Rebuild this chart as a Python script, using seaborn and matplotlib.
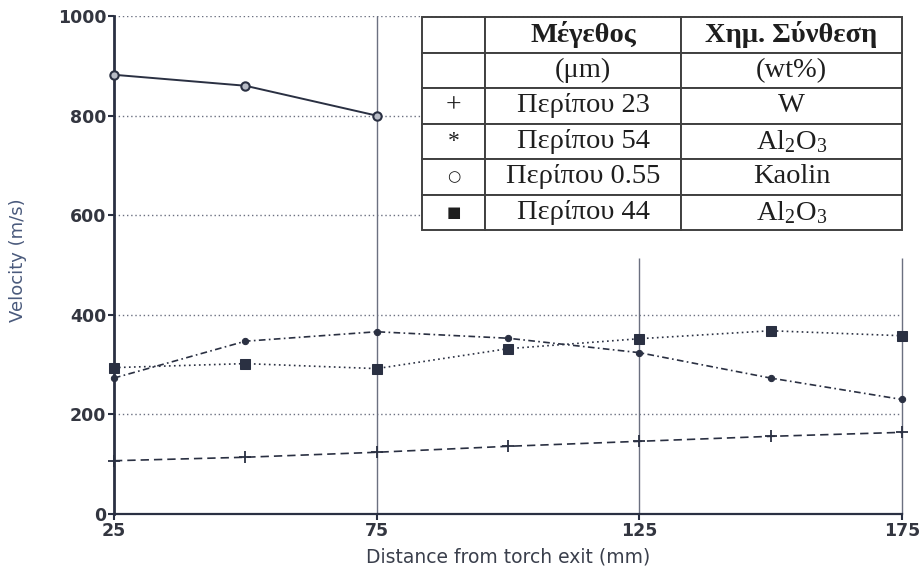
import matplotlib
matplotlib.use("Agg")
import matplotlib.pyplot as plt
import seaborn as sns
import pandas as pd

# Particle velocity vs. distance from the plasma torch exit
distance = [25, 50, 75, 100, 125, 150, 175]
vel_w = [107, 114, 124, 136, 146, 156, 164]            # W, ~23 um
vel_al2o3_54 = [273, 347, 366, 353, 324, 273, 230]     # Al2O3, ~54 um
distance_kaolin = [25, 50, 75]
vel_kaolin = [882, 860, 800]                           # Kaolin, ~0.55 um
vel_al2o3_44 = [294, 302, 292, 332, 352, 368, 358]     # Al2O3, ~44 um

x_ticks = [25, 75, 125, 175]
y_ticks = [0, 200, 400, 600, 800, 1000]

table_header = ["", "Μέγεθος", "Χημ. Σύνθεση"]
table_units = ["", "(μm)", "(wt%)"]
table_symbols = ["+", "*", "○", "■"]
table_sizes = ["Περίπου 23", "Περίπου 54", "Περίπου 0.55", "Περίπου 44"]
table_comp = ["W", "Al$_2$O$_3$", "Kaolin", "Al$_2$O$_3$"]

sns.set_theme(style="white")
plt.rcParams["font.family"] = ["DejaVu Sans"]
plt.rcParams["mathtext.fontset"] = "custom"
plt.rcParams["mathtext.rm"] = "Liberation Serif"
plt.rcParams["mathtext.it"] = "Liberation Serif:italic"

ink = "#2a3042"
grid_c = "#6b7080"

fig = plt.figure(figsize=(9.22, 5.76), dpi=100)
ax = fig.add_axes([0.1236, 0.1076, 0.8547, 0.8646])

# grid: dotted horizontals, thin solid verticals
for y in y_ticks[1:]:
    ax.axhline(y, color=grid_c, lw=1.0, ls=(0, (1, 2)), zorder=1)
ax.axvline(75, color=grid_c, lw=1.0, zorder=1)
ax.vlines([125, 175], 0, 515, color=grid_c, lw=1.0, zorder=1, clip_on=False)

df_w = pd.DataFrame({"d": distance, "v": vel_w})
df_54 = pd.DataFrame({"d": distance, "v": vel_al2o3_54})
df_k = pd.DataFrame({"d": distance_kaolin, "v": vel_kaolin})
df_44 = pd.DataFrame({"d": distance, "v": vel_al2o3_44})

sns.lineplot(data=df_w, x="d", y="v", ax=ax, color=ink, lw=1.2,
             ls=(0, (5, 3)), marker="+", ms=9, mew=1.3, mec=ink,
             clip_on=False, zorder=3)
sns.lineplot(data=df_54, x="d", y="v", ax=ax, color=ink, lw=1.2,
             ls=(0, (4, 2, 1, 2)), marker="o", ms=4.5, mec=ink, mfc=ink,
             clip_on=False, zorder=3)
sns.lineplot(data=df_44, x="d", y="v", ax=ax, color=ink, lw=1.2,
             ls=(0, (1, 2)), marker="s", ms=7, mec=ink, mfc=ink,
             clip_on=False, zorder=3)
sns.lineplot(data=df_k, x="d", y="v", ax=ax, color=ink, lw=1.4,
             ls="-", marker="o", ms=6, mec=ink, mfc="#b8bcc6", mew=1.5,
             clip_on=False, zorder=3)

ax.set_xlim(25, 175)
ax.set_ylim(0, 1000)
ax.set_xticks(x_ticks)
ax.set_yticks(y_ticks)
ax.set_xticklabels([str(t) for t in x_ticks], fontsize=12.5, fontweight="bold",
                   color="#333640")
ax.set_yticklabels([str(t) for t in y_ticks], fontsize=12.5, fontweight="bold",
                   color="#333640")
ax.tick_params(axis="both", direction="out", length=4, width=1.5, color=ink,
               pad=1.5, left=True, bottom=True)
ax.set_xlabel("Distance from torch exit (mm)", fontsize=13.5, color="#3a3f4c",
              labelpad=6)
ax.set_ylabel("Velocity (m/s)", fontsize=13, color="#4a5a7c")
ax.yaxis.set_label_coords(-0.11, 0.51)

for side in ["top", "right"]:
    ax.spines[side].set_visible(False)
ax.spines["left"].set_color(ink)
ax.spines["left"].set_linewidth(2)
ax.spines["bottom"].set_color(ink)
ax.spines["bottom"].set_linewidth(1.6)

# legend table in the upper right
cell_text = [table_header, table_units] + [
    [s, z, c] for s, z, c in zip(table_symbols, table_sizes, table_comp)
]
tbl = ax.table(cellText=cell_text, cellLoc="center",
               colWidths=[63, 196, 221],
               bbox=[0.391, 0.570, 0.609, 0.428], zorder=5)
tbl.auto_set_font_size(False)
for (r, c), cell in tbl.get_celld().items():
    cell.set_edgecolor("#404040")
    cell.set_linewidth(1.4)
    cell.set_facecolor("white")
    txt = cell.get_text()
    txt.set_fontsize(20.5)
    txt.set_color("#1e1e1e")
    txt.set_fontfamily(["Liberation Serif", "DejaVu Sans"])
    if r == 0:
        txt.set_fontweight("bold")
    if c == 0 and r >= 2:
        sym = table_symbols[r - 2]
        if sym in ("○", "■"):
            txt.set_fontsize(11)
            txt.set_fontfamily(["DejaVu Sans"])
        else:
            txt.set_fontsize(20 if sym == "+" else 17)

fig.savefig("out.png", dpi=100, facecolor="white")
